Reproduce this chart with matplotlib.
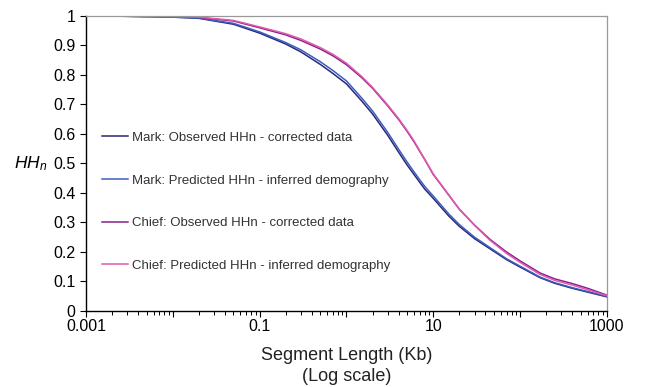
import matplotlib
matplotlib.use("Agg")
import matplotlib.pyplot as plt
from matplotlib.ticker import LogLocator, FixedLocator, NullFormatter, FixedFormatter

plt.rcParams["font.family"] = ["Liberation Sans", "DejaVu Sans"]
plt.rcParams["mathtext.fontset"] = "custom"
plt.rcParams["mathtext.it"] = "Liberation Sans:italic"
plt.rcParams["mathtext.rm"] = "Liberation Sans"

# Segment length (Kb) and HHn values
seg_len = [0.001, 0.003, 0.01, 0.02, 0.05, 0.1, 0.2, 0.3, 0.5, 0.7, 1, 1.5,
           2, 3, 4, 5, 6, 7, 8, 10, 15, 20, 30, 45, 70, 100, 170, 250, 400,
           600, 1000]

mark_observed = [1.0, 0.999, 0.996, 0.992, 0.972, 0.942, 0.905, 0.878, 0.836,
                 0.805, 0.77, 0.712, 0.668, 0.595, 0.538, 0.495, 0.463, 0.436,
                 0.413, 0.382, 0.323, 0.287, 0.245, 0.211, 0.174, 0.149,
                 0.113, 0.094, 0.077, 0.064, 0.048]
mark_predicted = [1.0, 0.999, 0.997, 0.993, 0.975, 0.946, 0.91, 0.885, 0.845,
                  0.815, 0.78, 0.722, 0.678, 0.605, 0.548, 0.505, 0.472,
                  0.445, 0.422, 0.39, 0.33, 0.293, 0.25, 0.215, 0.177, 0.152,
                  0.115, 0.096, 0.079, 0.066, 0.05]
chief_observed = [1.0, 0.999, 0.998, 0.995, 0.983, 0.96, 0.936, 0.917, 0.888,
                  0.865, 0.835, 0.791, 0.755, 0.695, 0.649, 0.609, 0.574,
                  0.541, 0.513, 0.463, 0.394, 0.345, 0.291, 0.243, 0.2, 0.17,
                  0.129, 0.109, 0.093, 0.077, 0.054]
chief_predicted = [1.0, 0.999, 0.998, 0.996, 0.985, 0.963, 0.94, 0.922, 0.893,
                   0.87, 0.84, 0.795, 0.758, 0.698, 0.652, 0.612, 0.577, 0.543,
                   0.514, 0.465, 0.395, 0.345, 0.29, 0.24, 0.195, 0.165,
                   0.124, 0.104, 0.088, 0.072, 0.052]

series_labels = [
    "Mark: Observed HHn - corrected data",
    "Mark: Predicted HHn - inferred demography",
    "Chief: Observed HHn - corrected data",
    "Chief: Predicted HHn - inferred demography",
]
series_colors = ["#2a2877", "#3d5ec0", "#8c1f8c", "#e05aae"]

x_tick_labels = ["0.001", "", "0.1", "", "10", "", "1000"]

fig = plt.figure(figsize=(6.49, 3.87), dpi=100)
ax = fig.add_axes([0.1325, 0.1964, 0.8025, 0.7623])

for vals, lab, col in zip(
    [mark_observed, mark_predicted, chief_observed, chief_predicted],
    series_labels, series_colors,
):
    ax.plot(seg_len, vals, color=col, lw=1.1, label=lab)

ax.set_xscale("log")
ax.set_xlim(0.001, 1000)
ax.set_ylim(0, 1)

ax.xaxis.set_major_locator(FixedLocator([1e-3, 1e-2, 1e-1, 1, 10, 100, 1000]))
ax.xaxis.set_major_formatter(FixedFormatter(x_tick_labels))
ax.xaxis.set_minor_locator(LogLocator(base=10, subs=range(2, 10), numticks=20))
ax.xaxis.set_minor_formatter(NullFormatter())
ax.set_yticks([i / 10 for i in range(11)])
ax.set_yticklabels(["0"] + [f"{i / 10:.1f}" for i in range(1, 10)] + ["1"])

ax.tick_params(axis="both", which="major", direction="out", length=4,
               width=0.8, labelsize=11.5, colors="black")
ax.tick_params(axis="x", which="major", pad=2)
ax.tick_params(axis="x", which="minor", direction="out", length=3, width=0.7)

for side in ["top", "right"]:
    ax.spines[side].set_color("#999999")
    ax.spines[side].set_linewidth(0.9)
for side in ["left", "bottom"]:
    ax.spines[side].set_linewidth(1.0)

ax.set_xlabel("Segment Length (Kb)\n(Log scale)", fontsize=13,
              linespacing=1.3, labelpad=9, color="#222222")
ax.set_ylabel(r"$HH_n$", rotation=0, fontsize=12.5, ha="center", va="center")
ax.yaxis.set_label_coords(-0.107, 0.5)

ax.legend(loc="center left", bbox_to_anchor=(0.007, 0.37), frameon=False,
          fontsize=9.5, handlelength=2.0, handletextpad=0.3,
          labelspacing=2.3, labelcolor="#333333")

fig.savefig("out.png", dpi=100)
